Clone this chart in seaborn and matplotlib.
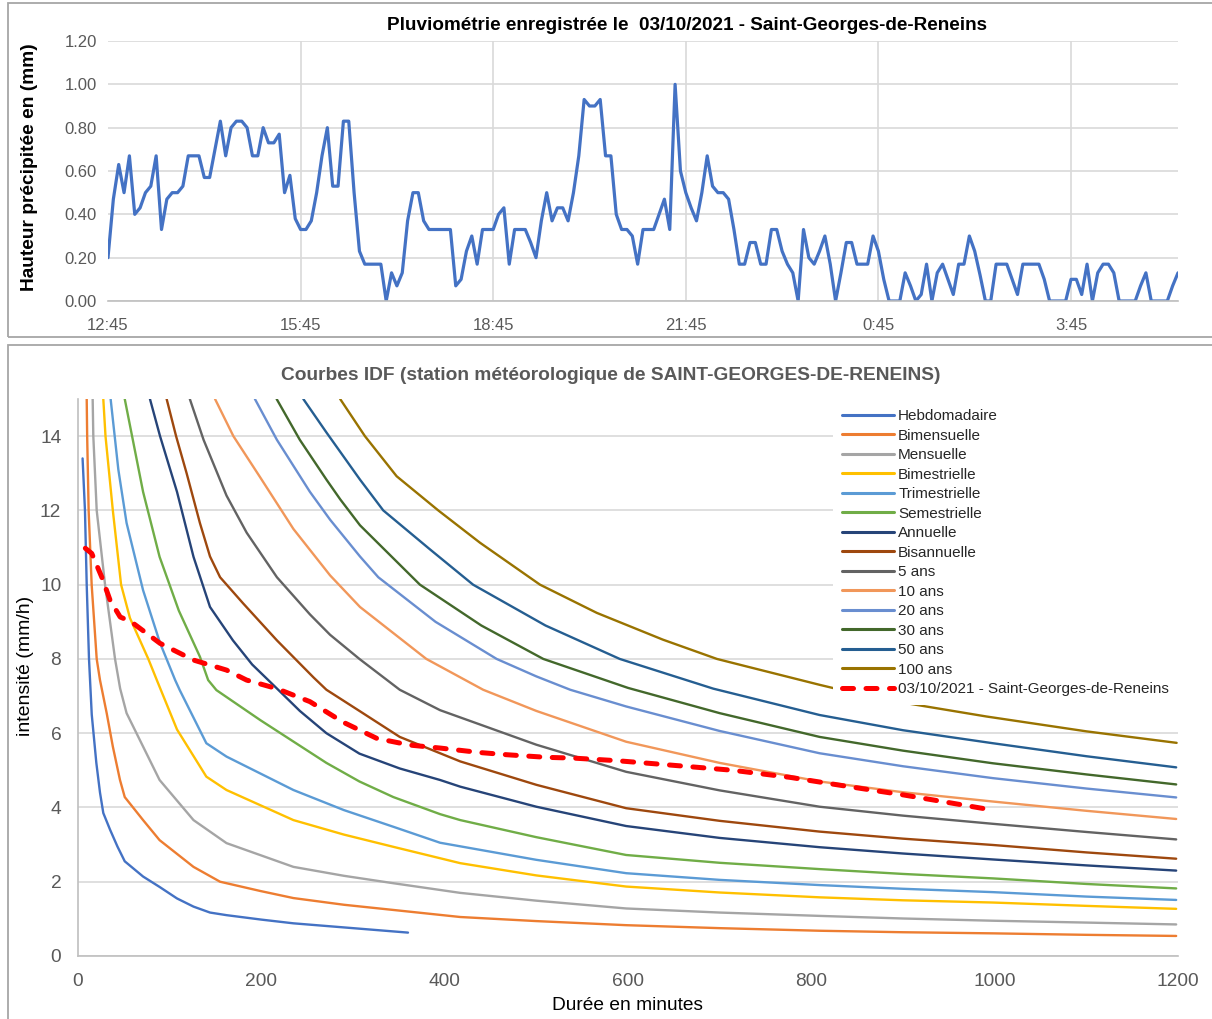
import numpy as np
import pandas as pd
import matplotlib
matplotlib.use("Agg")
import matplotlib.pyplot as plt
import seaborn as sns
from matplotlib.patches import Rectangle

# ---------------- data : top chart (5-minute rainfall) ----------------
rain_start = "2021-10-03 12:45"
rain_mm = [
    0.20, 0.47, 0.63, 0.50, 0.67, 0.40, 0.43, 0.50, 0.53, 0.67,
    0.33, 0.47, 0.50, 0.50, 0.53, 0.67, 0.67, 0.67, 0.57, 0.57,
    0.70, 0.83, 0.67, 0.80, 0.83, 0.83, 0.80, 0.67, 0.67, 0.80,
    0.73, 0.73, 0.77, 0.50, 0.58, 0.38, 0.33, 0.33, 0.37, 0.50,
    0.67, 0.80, 0.53, 0.53, 0.83, 0.83, 0.50, 0.23, 0.17, 0.17,
    0.17, 0.17, 0.00, 0.13, 0.07, 0.13, 0.37, 0.50, 0.50, 0.37,
    0.33, 0.33, 0.33, 0.33, 0.33, 0.07, 0.10, 0.23, 0.30, 0.17,
    0.33, 0.33, 0.33, 0.40, 0.43, 0.17, 0.33, 0.33, 0.33, 0.27,
    0.20, 0.37, 0.50, 0.37, 0.43, 0.43, 0.37, 0.50, 0.67, 0.93,
    0.90, 0.90, 0.93, 0.67, 0.67, 0.40, 0.33, 0.33, 0.30, 0.17,
    0.33, 0.33, 0.33, 0.40, 0.47, 0.33, 1.00, 0.60, 0.50, 0.43,
    0.37, 0.50, 0.67, 0.53, 0.50, 0.50, 0.47, 0.33, 0.17, 0.17,
    0.27, 0.27, 0.17, 0.17, 0.33, 0.33, 0.23, 0.17, 0.13, 0.00,
    0.33, 0.20, 0.17, 0.23, 0.30, 0.17, 0.00, 0.13, 0.27, 0.27,
    0.17, 0.17, 0.17, 0.30, 0.23, 0.10, 0.00, 0.00, 0.00, 0.13,
    0.07, 0.00, 0.03, 0.17, 0.00, 0.13, 0.17, 0.10, 0.03, 0.17,
    0.17, 0.30, 0.23, 0.12, 0.00, 0.00, 0.17, 0.17, 0.17, 0.10,
    0.03, 0.17, 0.17, 0.17, 0.17, 0.10, 0.00, 0.00, 0.00, 0.00,
    0.10, 0.10, 0.03, 0.17, 0.00, 0.13, 0.17, 0.17, 0.13, 0.00,
    0.00, 0.00, 0.00, 0.07, 0.13, 0.00, 0.00, 0.00, 0.00, 0.07,
    0.13,
]
rain_tick_labels = ["12:45", "15:45", "18:45", "21:45", "0:45", "3:45"]
rain_yticks = [0.0, 0.2, 0.4, 0.6, 0.8, 1.0, 1.2]

# ---------------- data : IDF curves (duration min, intensity mm/h) ----------------
d_hebdo = [5, 7.6, 9.5, 12, 15, 20, 24, 27.6, 35, 43, 51, 71, 89, 108, 126, 144, 162, 200, 235, 300, 360]
i_hebdo = [13.4, 12.0, 10.0, 8.0, 6.5, 5.2, 4.4, 3.85, 3.4, 2.95, 2.55, 2.14, 1.86, 1.55, 1.33, 1.17, 1.1, 0.98, 0.88, 0.75, 0.63]

d_bimens = [9.5, 10, 11.6, 14.9, 20.4, 24, 31.3, 38, 45.8, 51, 71, 89, 126, 155, 199, 235, 290, 344, 417, 500, 598, 700, 809, 900, 998, 1100, 1198]
i_bimens = [15, 14, 12, 10, 8, 7.43, 6.54, 5.64, 4.74, 4.28, 3.66, 3.12, 2.4, 2.0, 1.75, 1.56, 1.38, 1.24, 1.05, 0.94, 0.83, 0.75, 0.68, 0.64, 0.61, 0.57, 0.54]

d_mens = [16, 16.7, 20.4, 29.5, 40.4, 46, 53, 71, 89, 126, 162, 235, 290, 344, 417, 500, 598, 700, 809, 900, 998, 1100, 1198]
i_mens = [15, 14, 12, 10, 8, 7.2, 6.54, 5.64, 4.74, 3.66, 3.04, 2.4, 2.16, 1.96, 1.7, 1.49, 1.28, 1.17, 1.08, 1.01, 0.95, 0.9, 0.85]

d_bimes = [27.6, 30, 38, 47, 56.7, 76.7, 86, 108, 140, 162, 235, 290, 344, 417, 500, 598, 700, 809, 900, 998, 1100, 1198]
i_bimes = [15, 14, 12, 10, 9.1, 8.0, 7.43, 6.1, 4.83, 4.47, 3.66, 3.27, 2.94, 2.5, 2.17, 1.87, 1.71, 1.58, 1.5, 1.44, 1.35, 1.27]

d_trim = [35.6, 44, 53, 71, 89.5, 106, 111, 140, 162, 235, 290, 344, 395, 500, 598, 700, 809, 900, 998, 1100, 1198]
i_trim = [15, 13.1, 11.66, 9.85, 8.43, 7.43, 7.16, 5.73, 5.37, 4.47, 3.93, 3.48, 3.05, 2.59, 2.23, 2.05, 1.91, 1.81, 1.72, 1.6, 1.51]

d_semes = [51, 55, 71, 89, 110, 133, 142, 151, 199, 271, 307, 344, 395, 417, 500, 598, 700, 809, 900, 998, 1100, 1198]
i_semes = [15, 14.5, 12.5, 10.75, 9.3, 8.06, 7.43, 7.16, 6.35, 5.2, 4.7, 4.28, 3.82, 3.66, 3.2, 2.72, 2.51, 2.34, 2.21, 2.09, 1.94, 1.82]

d_ann = [78.5, 89.5, 108, 126, 144, 169, 190, 213, 242, 271, 307, 351, 395, 417, 500, 598, 700, 809, 900, 998, 1100, 1198]
i_ann = [15, 14, 12.5, 10.75, 9.4, 8.5, 7.85, 7.3, 6.6, 6.0, 5.45, 5.05, 4.74, 4.56, 4.02, 3.5, 3.18, 2.93, 2.76, 2.6, 2.44, 2.3]

d_bisan = [96.7, 107, 118.5, 133, 144, 155, 180, 217, 257, 271, 307, 351, 395, 417, 500, 598, 700, 809, 900, 998, 1100, 1198]
i_bisan = [15, 14, 13.0, 11.66, 10.76, 10.2, 9.5, 8.5, 7.5, 7.17, 6.6, 5.9, 5.46, 5.24, 4.61, 3.98, 3.64, 3.35, 3.16, 2.99, 2.79, 2.62]

d_5ans = [122, 137, 162, 184, 217, 253, 275, 307, 351, 395, 500, 598, 700, 809, 900, 998, 1100, 1198]
i_5ans = [15, 13.9, 12.4, 11.4, 10.2, 9.2, 8.65, 8.0, 7.17, 6.62, 5.69, 4.96, 4.46, 4.02, 3.78, 3.56, 3.34, 3.14]

d_10ans = [149.5, 169.5, 198.5, 235, 275, 307.6, 380, 442, 500, 598, 700, 809, 900, 998, 1100, 1198]
i_10ans = [15, 14.0, 12.9, 11.5, 10.25, 9.4, 8.0, 7.17, 6.6, 5.77, 5.2, 4.7, 4.41, 4.16, 3.91, 3.69]

d_20ans = [193, 217, 253, 275, 307.6, 327.6, 390, 456.7, 500, 537, 598, 700, 809, 900, 998, 1100, 1198]
i_20ans = [15, 13.9, 12.5, 11.75, 10.76, 10.2, 9.0, 8.0, 7.53, 7.17, 6.72, 6.06, 5.46, 5.11, 4.79, 4.51, 4.27]

d_30ans = [216.7, 242, 271, 286, 307.6, 373, 440, 507.6, 600, 700, 809, 900, 998, 1100, 1198]
i_30ans = [15, 13.9, 12.83, 12.3, 11.6, 10.0, 8.9, 8.0, 7.22, 6.54, 5.9, 5.53, 5.19, 4.89, 4.62]

d_50ans = [245.8, 271, 307.6, 333, 384, 431, 510, 591, 693, 809, 900, 998, 1100, 1198]
i_50ans = [15, 14.1, 12.83, 12.0, 10.95, 10.0, 8.9, 8.0, 7.2, 6.49, 6.08, 5.73, 5.38, 5.08]

d_100ans = [286, 313, 347.6, 393, 438.5, 504, 566, 638, 697, 729, 809.5, 869, 991, 1100, 1198.5]
i_100ans = [15, 14.0, 12.92, 12.0, 11.13, 10.0, 9.24, 8.52, 8.0, 7.8, 7.3, 6.95, 6.45, 6.05, 5.74]

d_event = [8, 15, 26, 35, 46, 58, 89.5, 126, 162, 184, 217, 253, 289, 326, 362, 395, 438, 468,
           511, 540, 588, 657, 715, 777, 831, 900, 955, 1000]
i_event = [10.98, 10.84, 10.2, 9.58, 9.13, 9.0, 8.42, 7.97, 7.7, 7.43, 7.2, 6.85, 6.3, 5.86, 5.68, 5.6, 5.48, 5.42,
           5.35, 5.33, 5.26, 5.12, 5.0, 4.81, 4.6, 4.34, 4.11, 3.92]
event_label = "03/10/2021 - Saint-Georges-de-Reneins"

idf_names = ["Hebdomadaire", "Bimensuelle", "Mensuelle", "Bimestrielle", "Trimestrielle",
             "Semestrielle", "Annuelle", "Bisannuelle", "5 ans", "10 ans", "20 ans",
             "30 ans", "50 ans", "100 ans"]
idf_durations = [d_hebdo, d_bimens, d_mens, d_bimes, d_trim, d_semes, d_ann, d_bisan,
                 d_5ans, d_10ans, d_20ans, d_30ans, d_50ans, d_100ans]
idf_values = [i_hebdo, i_bimens, i_mens, i_bimes, i_trim, i_semes, i_ann, i_bisan,
              i_5ans, i_10ans, i_20ans, i_30ans, i_50ans, i_100ans]
idf_colors = ["#4472C4", "#ED7D31", "#A5A5A5", "#FFC000", "#5B9BD5", "#70AD47",
              "#264478", "#9E480E", "#636363", "#F1975A", "#698ED0", "#43682B",
              "#255E91", "#997300"]

# ---------------- figure ----------------
sns.set_theme(style="white")
plt.rcParams["font.family"] = ["Liberation Sans", "DejaVu Sans"]

W, H = 1212, 1019
fig = plt.figure(figsize=(W / 100, H / 100), dpi=100)
fig.patch.set_facecolor("white")

def fx(px):
    return px / W

def fy(py):
    return 1 - py / H

# chart-area frames
fig.add_artist(Rectangle((fx(8), fy(337)), 1.0, (337 - 3) / H, transform=fig.transFigure,
                         fill=False, edgecolor="#A6A6A6", lw=1.3))
fig.add_artist(Rectangle((fx(8), -0.01), 1.0, fy(345) + 0.01, transform=fig.transFigure,
                         fill=False, edgecolor="#A6A6A6", lw=1.3))

tick_col = "#595959"

# ---- top chart ----
ax1 = fig.add_axes([fx(108), fy(301), fx(1178) - fx(108), fy(41) - fy(301)])
times = pd.date_range(rain_start, periods=len(rain_mm), freq="5min")
labels_all = [f"{t.hour}:{t.minute:02d}" for t in times]
rain_df = pd.DataFrame({"pos": np.arange(len(rain_mm)), "mm": rain_mm})
sns.lineplot(data=rain_df, x="pos", y="mm", ax=ax1, color="#4472C4", linewidth=2.3)
tick_pos = [i for i, lab in enumerate(labels_all) if lab in rain_tick_labels and i % 36 == 0]
ax1.set_xticks(tick_pos)
ax1.set_xticklabels([labels_all[i] for i in tick_pos])
ax1.set_xlim(0, len(rain_mm) - 1)
ax1.set_ylim(0, 1.2)
ax1.set_yticks(rain_yticks)
ax1.set_yticklabels([f"{v:.2f}" for v in rain_yticks])
ax1.grid(True, color="#D9D9D9", lw=1.2)
ax1.xaxis.get_gridlines()[0].set_visible(False)
for s in ["top", "right", "left"]:
    ax1.spines[s].set_visible(False)
ax1.spines["bottom"].set_color("#BFBFBF")
ax1.spines["bottom"].set_linewidth(1.2)
ax1.tick_params(axis="both", length=0, labelsize=12, labelcolor=tick_col)
ax1.tick_params(axis="y", pad=8)
ax1.tick_params(axis="x", pad=12)
ax1.set_xlabel("")
ax1.set_ylabel("")
fig.text(fx(687), fy(26), "Pluviométrie enregistrée le  03/10/2021 - Saint-Georges-de-Reneins",
         ha="center", va="center", fontsize=13.6, fontweight="bold", color="black")
fig.text(fx(30), fy(167), "Hauteur précipitée en (mm)", rotation=90, ha="center", va="center",
         fontsize=13.8, fontweight="bold", color="black")

# ---- bottom chart ----
ax2 = fig.add_axes([fx(78), fy(956), fx(1178) - fx(78), fy(399) - fy(956)])
rows = []
for name, ds, vs in zip(idf_names, idf_durations, idf_values):
    for d, v in zip(ds, vs):
        rows.append((name, d, v))
idf_df = pd.DataFrame(rows, columns=["serie", "duree", "intensite"])
sns.lineplot(data=idf_df, x="duree", y="intensite", hue="serie", hue_order=idf_names,
             palette=dict(zip(idf_names, idf_colors)), estimator=None, sort=False,
             linewidth=1.7, ax=ax2)
for ln in ax2.lines:
    ln.set_solid_joinstyle("round")
event_df = pd.DataFrame({"duree": d_event, "intensite": i_event})
sns.lineplot(data=event_df, x="duree", y="intensite", color="#FF0000", linewidth=3.6,
             ax=ax2, label=event_label, estimator=None, sort=False)
ev_line = ax2.lines[-1]
ev_line.set_linestyle((0, (2.2, 2.5)))
ev_line.set_dash_capstyle("round")

ax2.set_xlim(0, 1200)
ax2.set_ylim(0, 15)
ax2.set_xticks(range(0, 1201, 200))
ax2.set_yticks(range(0, 15, 2))
ax2.yaxis.grid(True, color="#D9D9D9", lw=1.2)
ax2.xaxis.grid(False)
for s in ["top", "right"]:
    ax2.spines[s].set_visible(False)
for s in ["left", "bottom"]:
    ax2.spines[s].set_color("#BFBFBF")
    ax2.spines[s].set_linewidth(1.2)
ax2.tick_params(axis="both", length=0, labelsize=13.8, labelcolor=tick_col)
ax2.tick_params(axis="y", pad=12)
ax2.tick_params(axis="x", pad=12)
ax2.set_xlabel("")
ax2.set_ylabel("")

handles, labels = ax2.get_legend_handles_labels()
for h in handles:
    if h.get_label() != event_label:
        h.set_linewidth(2.2)
leg = ax2.legend(handles, labels, loc="upper left", bbox_to_anchor=(fx(833), fy(400)),
                 bbox_transform=fig.transFigure, borderaxespad=0, borderpad=0.6,
                 fontsize=11, labelspacing=0.36, handlelength=3.4, handletextpad=0.27,
                 frameon=True, fancybox=False)
leg.get_frame().set_facecolor("white")
leg.get_frame().set_edgecolor("none")
leg.get_frame().set_alpha(1.0)
for t in leg.get_texts():
    t.set_color("#262626")

fig.text(fx(611), fy(375), "Courbes IDF (station météorologique de SAINT-GEORGES-DE-RENEINS)",
         ha="center", va="center", fontsize=13.8, fontweight="bold", color="#595959")
fig.text(fx(25), fy(666), "intensité (mm/h)", rotation=90, ha="center", va="center",
         fontsize=14, color="black")
fig.text(fx(627), fy(1006), "Durée en minutes", ha="center", va="center",
         fontsize=13.8, color="black")

fig.savefig("out.png", dpi=100, facecolor="white")
